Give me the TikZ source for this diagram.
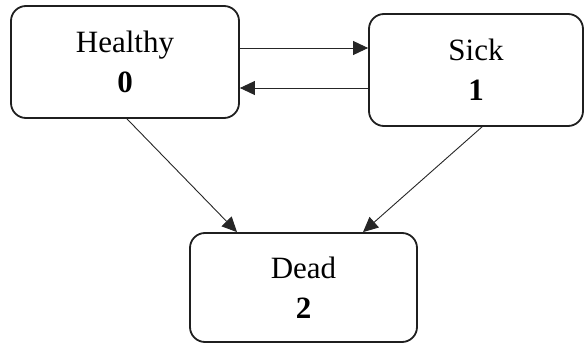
\documentclass[tikz,border=0pt]{standalone}
\usepackage{fontspec}
\setmainfont{Liberation Serif}
\usetikzlibrary{arrows.meta}
\begin{document}
\begin{tikzpicture}[x=1pt,y=1pt,
  state/.style={draw=black!88, line width=1.8pt, rounded corners=15pt, fill=white,
    align=center, font=\fontsize{31}{40}\selectfont, inner sep=0pt},
  conn/.style={draw=black!85, line width=0.9pt, -{Triangle[length=15pt,width=14pt]}}]
\useasboundingbox (0,0) rectangle (587,-343);
\node[state, minimum width=228pt, minimum height=112pt] (h) at (125,-62) {Healthy\\\textbf{0}};
\node[state, minimum width=214pt, minimum height=112pt] (s) at (476,-70) {Sick\\\textbf{1}};
\node[state, minimum width=227pt, minimum height=109pt] (d) at (303.5,-287.5) {Dead\\\textbf{2}};
\draw[conn] (h.east |- 0,-48) -- (s.west |- 0,-48);
\draw[conn] (s.west |- 0,-88) -- (h.east |- 0,-88);
\draw[conn] ([xshift=2pt]h.south) -- ([xshift=-66.5pt]d.north);
\draw[conn] ([xshift=6pt]s.south) -- ([xshift=59.5pt]d.north);
\end{tikzpicture}
\end{document}
